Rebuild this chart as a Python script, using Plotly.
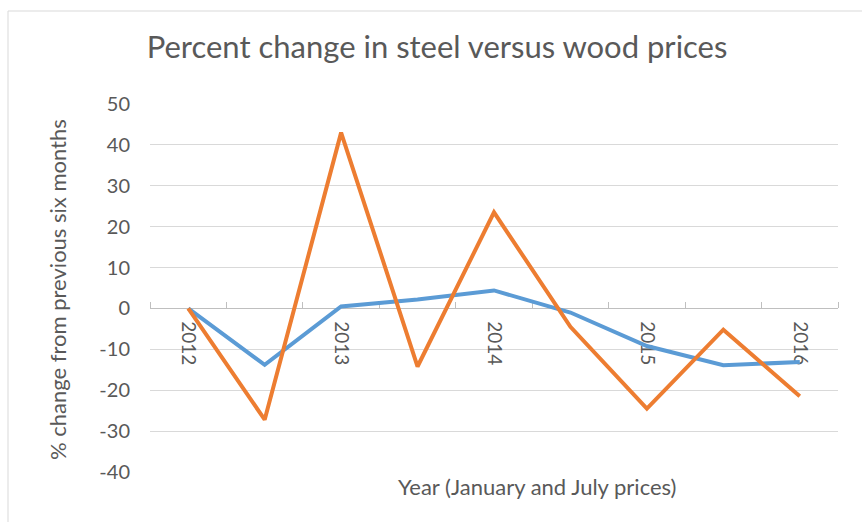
import plotly.graph_objects as go

periods = ["2012", "", "2013", "", "2014", "", "2015", "", "2016"]
steel = [0, -13.8, 0.5, 2.2, 4.4, -1.0, -9.2, -13.9, -13.1]
wood = [0, -27.2, 43.0, -14.2, 23.5, -4.5, -24.5, -5.2, -21.5]
y_ticks = [50, 40, 30, 20, 10, 0, -10, -20, -30, -40]

xs = list(range(len(periods)))
label_idx = [i for i, p in enumerate(periods) if p]

FONT = "Lato"
GRAY = "#595959"

fig = go.Figure()
fig.add_trace(go.Scatter(x=xs, y=steel, mode="lines", name="Steel",
                         line=dict(color="#5B9BD5", width=4)))
fig.add_trace(go.Scatter(x=xs, y=wood, mode="lines", name="Wood",
                         line=dict(color="#ED7D31", width=4)))

ymin, ymax = -40, 50
fig.update_layout(
    width=862, height=522,
    margin=dict(l=150, r=24, t=104, b=50),
    paper_bgcolor="white", plot_bgcolor="white",
    showlegend=False,
    font=dict(family=FONT, color=GRAY),
    title=dict(text="Percent change in steel versus wood prices",
               font=dict(family=FONT, size=31, color=GRAY),
               xref="container", yref="container", x=0.507, y=1 - 47 / 522,
               xanchor="center", yanchor="middle"),
    xaxis=dict(
        range=[-0.5, len(periods) - 0.5],
        tickvals=[xs[i] for i in label_idx],
        ticktext=[periods[i] for i in label_idx],
        tickangle=90,
        ticks="",
        showgrid=False, zeroline=False,
        showline=True, linecolor="#bfbfbf", linewidth=1,
        anchor="free", position=(0 - ymin) / (ymax - ymin),
        tickfont=dict(family=FONT, size=19, color=GRAY),
        ticklabelstandoff=8,
        layer="below traces",
        minor=dict(tickvals=[x - 0.5 for x in xs] + [xs[-1] + 0.5],
                   ticks="inside", ticklen=6, tickcolor="#bfbfbf", showgrid=False),
    ),
    yaxis=dict(
        range=[ymin, ymax],
        tickvals=y_ticks,
        ticktext=[str(v) for v in y_ticks],
        showgrid=True, gridcolor="#d9d9d9", gridwidth=1,
        zeroline=False, showline=False,
        tickfont=dict(family=FONT, size=20, color=GRAY),
        ticklabelstandoff=19,
    ),
)

fig.add_annotation(text="% change from previous six months", textangle=-90,
                   xref="paper", yref="paper", x=(57 - 150) / 688, y=(472 - 290) / 368,
                   xanchor="center", yanchor="middle",
                   showarrow=False, font=dict(family=FONT, size=22, color=GRAY))
fig.add_annotation(text="Year (January and July prices)",
                   xref="paper", yref="paper", x=(537 - 150) / 688, y=(472 - 487) / 368,
                   xanchor="center", yanchor="middle", showarrow=False,
                   font=dict(family=FONT, size=22, color=GRAY))

fig.add_shape(type="rect", xref="paper", yref="paper",
              x0=(8 - 150) / 688, x1=(880 - 150) / 688,
              y0=(472 - 540) / 368, y1=(472 - 11) / 368,
              line=dict(color="#d9d9d9", width=1), layer="below")

fig.write_html("out.html", config={"displayModeBar": False},
               post_script="document.body.style.margin='0';document.body.style.padding='0';")
